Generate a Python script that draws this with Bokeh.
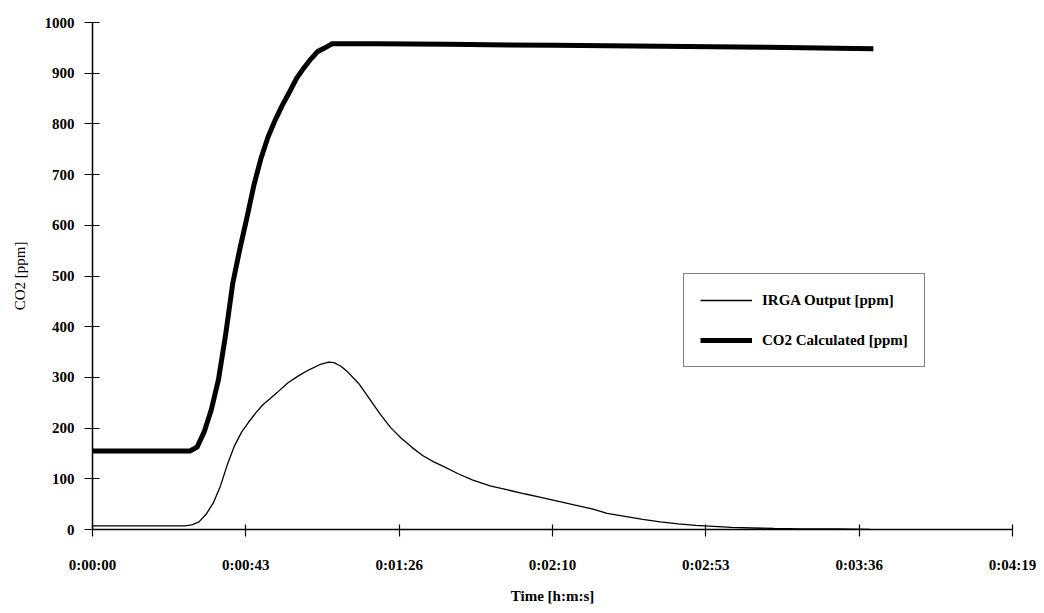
from bokeh.plotting import figure
from bokeh.models import Range1d, FixedTicker, Legend, LegendItem
from bokeh.embed import file_html
from bokeh.resources import INLINE

# ---- data (seconds, ppm) ----
irga_t = [0, 10, 20, 26, 28, 30, 32, 34, 36, 38, 40, 42, 44, 46, 48, 50, 52, 55, 58, 61,
          64, 66.5, 68, 70, 72, 75, 78, 81, 84, 87, 90, 93, 96, 99, 103, 107, 112, 117,
          122, 126, 131, 136, 141, 145, 150, 155, 160, 165, 170, 175, 180, 186, 192, 200,
          210, 219]
irga_v = [7, 7, 7, 7, 9, 15, 30, 52, 85, 128, 165, 192, 212, 230, 246, 258, 270, 289, 303, 315,
          325, 330, 329, 322, 310, 288, 258, 228, 201, 180, 162, 146, 134, 124, 110, 98, 86, 78,
          70, 64, 56, 48, 40, 32, 26, 20, 15, 11, 8, 6, 4, 3, 2, 1,
          1, 0]

calc_t = [0, 10, 20, 27.5, 29.5, 31.5, 33.5, 35.5, 37.5, 39.5, 41.5, 43.5, 45.5, 47.5, 49.5,
          51.5, 53.5, 55.5, 57.5, 59.5, 61.5, 63.5, 65.5, 67.5, 80, 100, 130, 160, 190, 220]
calc_v = [155, 155, 155, 155, 163, 193, 237, 296, 384, 485, 553, 615, 680, 733, 775,
          808, 837, 863, 890, 910, 928, 943, 950, 958, 958, 957, 955, 953, 951, 948]

x_ticks = [k * 43.2 for k in range(7)]
x_tick_labels = ["0:00:00", "0:00:43", "0:01:26", "0:02:10", "0:02:53", "0:03:36", "0:04:19"]
y_ticks = list(range(0, 1001, 100))

FONT = "Liberation Serif"

p = figure(frame_width=920, frame_height=507, output_backend="svg", toolbar_location=None,
           x_range=Range1d(0, x_ticks[-1]), y_range=Range1d(0, 1000),
           min_border_left=92, min_border_right=28, min_border_top=22, min_border_bottom=74)
p.outline_line_color = None
p.xgrid.visible = False
p.ygrid.visible = False
p.background_fill_color = "white"
p.border_fill_color = "white"

r_irga = p.line(irga_t, irga_v, line_color="black", line_width=1.3)
r_calc = p.line(calc_t, calc_v, line_color="black", line_width=5, line_join="miter")

for ax in (p.xaxis[0], p.yaxis[0]):
    ax.minor_tick_line_color = None
    ax.axis_line_color = "black"
    ax.major_tick_line_color = "black"
    ax.axis_line_width = 1.5
    ax.major_tick_line_width = 1.2
    ax.major_label_text_font = FONT
    ax.major_label_text_font_style = "bold"
    ax.major_label_text_font_size = "15px"
    ax.major_label_text_color = "black"
    ax.axis_label_text_font = FONT
    ax.axis_label_text_font_size = "15px"
    ax.axis_label_text_color = "black"

xa = p.xaxis[0]
xa.ticker = FixedTicker(ticks=x_ticks)
xa.major_label_overrides = {t: lab for t, lab in zip(x_ticks, x_tick_labels)}
xa.major_tick_in = 5
xa.major_tick_out = 7
xa.major_label_standoff = 20
xa.axis_label = "Time [h:m:s]"
xa.axis_label_text_font_style = "bold"
xa.axis_label_standoff = 12

ya = p.yaxis[0]
ya.ticker = FixedTicker(ticks=y_ticks)
ya.major_tick_in = 7
ya.major_tick_out = 8
ya.major_label_standoff = 10
ya.axis_label = "CO2 [ppm]"
ya.axis_label_text_font_style = "normal"
ya.axis_label_standoff = 14

legend = Legend(items=[LegendItem(label="IRGA Output [ppm]", renderers=[r_irga]),
                       LegendItem(label="CO2 Calculated [ppm]", renderers=[r_calc])],
                location=(591, 162))
legend.border_line_color = "black"
legend.border_line_width = 1.5
legend.background_fill_color = "white"
legend.background_fill_alpha = 1.0
legend.label_text_font = FONT
legend.label_text_font_style = "bold"
legend.label_text_font_size = "15px"
legend.label_text_color = "black"
legend.glyph_width = 52
legend.glyph_height = 20
legend.label_standoff = 10
legend.padding = 16
legend.spacing = 20
legend.margin = 0
p.add_layout(legend, "center")

open("out.html", "w").write(file_html(p, INLINE))
